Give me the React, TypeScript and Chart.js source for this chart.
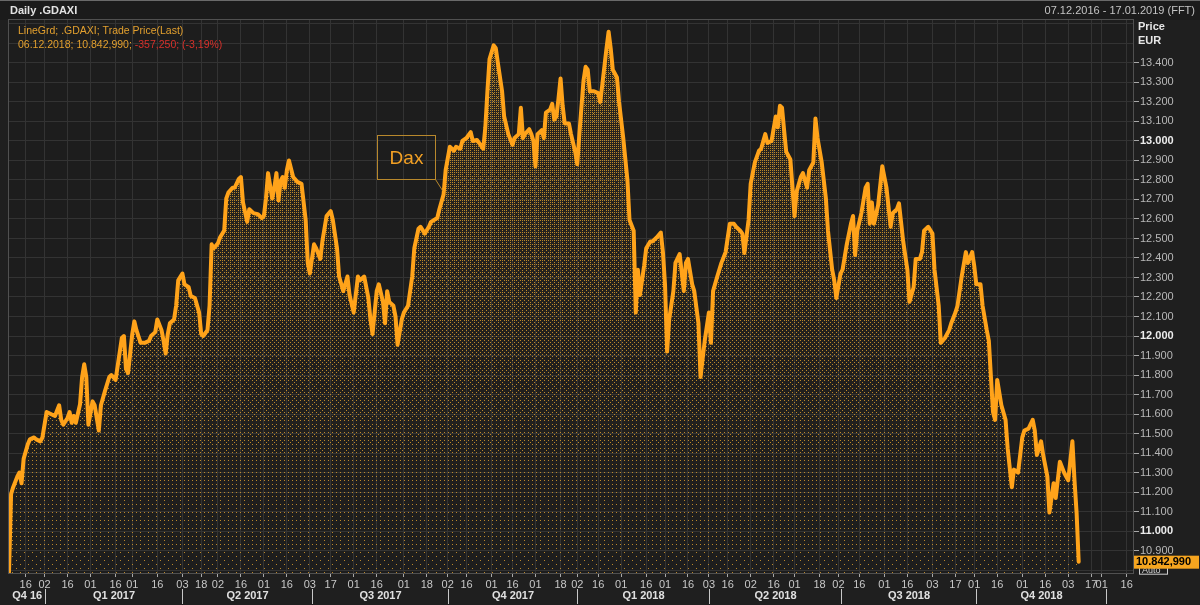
import React, { useEffect, useRef } from 'react';
import { Chart, registerables } from 'chart.js';

Chart.register(...registerables);

// Trading-day index (0 = 06.12.2016) and DAX close
const dayIndex = [
  0, 1, 2, 4, 5, 6, 7, 9, 10, 12, 13, 15, 16, 18, 20, 22, 24, 25, 26, 28, 29, 30, 31, 32, 34, 35, 36, 37, 38, 40,
  41, 43, 44, 46, 48, 49, 51, 52, 54, 55, 56, 57, 59, 60, 61, 63, 65, 67, 68, 70, 71, 73, 74, 75, 76, 77, 79, 80, 81, 83,
  84, 86, 87, 89, 91, 92, 93, 95, 96, 97, 98, 100, 101, 103, 104, 105, 107, 108, 110, 111, 112, 114, 115, 117, 119, 121, 122, 123, 124, 126,
  127, 128, 129, 130, 131, 132, 133, 134, 136, 138, 140, 142, 143, 144, 146, 147, 149, 150, 152, 154, 155, 157, 158, 160, 162, 163, 165, 167, 168, 170,
  172, 173, 174, 176, 177, 179, 180, 181, 182, 184, 185, 186, 188, 189, 191, 193, 194, 196, 197, 199, 201, 202, 205, 206, 208, 209, 211, 213, 214, 216,
  217, 219, 221, 222, 224, 225, 227, 228, 229, 230, 232, 233, 234, 236, 237, 239, 241, 242, 244, 245, 246, 247, 249, 250, 251, 252, 253, 255, 256, 257,
  259, 260, 261, 262, 263, 264, 265, 266, 268, 269, 271, 272, 273, 275, 276, 277, 278, 280, 282, 283, 284, 286, 287, 288, 289, 291, 292, 294, 296, 297,
  299, 300, 301, 302, 304, 305, 307, 308, 310, 312, 313, 314, 315, 316, 318, 319, 321, 323, 324, 325, 327, 328, 330, 331, 333, 335, 336, 337, 339, 341,
  343, 345, 347, 348, 350, 351, 352, 354, 355, 357, 359, 360, 362, 363, 365, 367, 368, 369, 370, 371, 372, 374, 375, 376, 377, 379, 380, 382, 383, 385,
  386, 387, 389, 391, 392, 394, 395, 396, 398, 399, 401, 403, 404, 405, 406, 408, 410, 411, 412, 413, 414, 416, 418, 419, 420, 422, 423, 425, 426, 428,
  430, 431, 433, 434, 436, 437, 438, 440, 442, 443, 445, 446, 448, 450, 451, 453, 454, 456, 458, 459, 461, 462, 463, 465, 466, 468, 469, 470, 471, 472,
  473, 475, 477, 478, 480, 481, 483, 485, 486, 488, 490, 491, 492, 494, 495, 497, 498, 500, 501, 503, 505, 506, 507, 509, 510, 511, 512,
];
const closePrice = [
  10790, 11190, 11225, 11280, 11300, 11245, 11370, 11445, 11470, 11480, 11470, 11460, 11480, 11610, 11600, 11590, 11645, 11570, 11545, 11580, 11610, 11555, 11590, 11555, 11650, 11790, 11855, 11790, 11545, 11665,
  11645, 11515, 11645, 11720, 11790, 11800, 11775, 11845, 11990, 12000, 11830, 11810, 12010, 12075, 12030, 11965, 11965, 11975, 12000, 12020, 12085, 12030, 11975, 11910, 12010, 12065, 12085, 12155, 12285, 12320,
  12265, 12250, 12205, 12195, 12120, 12010, 12000, 12030, 12155, 12470, 12450, 12475, 12505, 12540, 12705, 12735, 12760, 12760, 12805, 12815, 12685, 12585, 12650, 12630, 12625, 12605, 12615, 12705, 12835, 12705,
  12760, 12835, 12695, 12795, 12815, 12760, 12850, 12900, 12815, 12790, 12780, 12595, 12375, 12320, 12470, 12450, 12395, 12485, 12615, 12640, 12595, 12450, 12305, 12230, 12305, 12210, 12120, 12305, 12285, 12305,
  12195, 12085, 12010, 12230, 12265, 12175, 12065, 12230, 12175, 12155, 12100, 11955, 12085, 12120, 12155, 12305, 12450, 12550, 12560, 12525, 12560, 12585, 12605, 12650, 12725, 12850, 12970, 12950, 12970, 12960,
  13000, 13015, 13045, 13000, 13005, 12990, 12960, 13070, 13255, 13420, 13490, 13475, 13400, 13255, 13125, 13035, 12980, 13015, 13035, 13170, 13015, 13035, 13060, 13035, 13000, 12870, 13035, 13055, 13015, 13145,
  13160, 13190, 13110, 13125, 13215, 13320, 13180, 13090, 13090, 13035, 12945, 12880, 13035, 13310, 13380, 13365, 13255, 13255, 13245, 13200, 13290, 13475, 13560, 13475, 13365, 13325, 13200, 13015, 12800, 12595,
  12540, 12120, 12340, 12210, 12360, 12450, 12485, 12485, 12505, 12530, 12430, 12265, 11920, 12085, 12230, 12375, 12420, 12230, 12375, 12395, 12265, 12230, 12065, 11790, 11975, 12120, 11965, 12230, 12305, 12375,
  12430, 12575, 12575, 12560, 12540, 12525, 12425, 12595, 12780, 12890, 12950, 12960, 13035, 12990, 13000, 13125, 13070, 13180, 13170, 13055, 12945, 12905, 12760, 12615, 12740, 12815, 12835, 12760, 12850, 12890,
  13115, 13015, 12890, 12705, 12540, 12340, 12285, 12195, 12320, 12340, 12470, 12575, 12615, 12415, 12540, 12630, 12760, 12780, 12575, 12685, 12575, 12670, 12870, 12815, 12760, 12560, 12630, 12650, 12680, 12485,
  12340, 12175, 12250, 12395, 12395, 12430, 12540, 12560, 12525, 12340, 12155, 11965, 11990, 12030, 12065, 12120, 12155, 12305, 12430, 12375, 12430, 12360, 12265, 12265, 12155, 12030, 11975, 11790, 11610, 11570,
  11775, 11645, 11570, 11425, 11225, 11315, 11300, 11480, 11515, 11525, 11570, 11515, 11390, 11460, 11390, 11280, 11095, 11245, 11170, 11355, 11300, 11280, 11260, 11460, 11260, 11095, 10842.99,
];

// Day ticks on the time axis (trading-day index) and their labels
const dayTickIdx = [
  8, 17, 28, 39, 51, 59, 71, 83, 92, 100, 111, 122, 133, 144, 154, 165, 176, 189, 200, 210, 219, 231, 241, 252, 264,
  272, 282, 293, 305, 314, 325, 335, 344, 355, 366, 376, 388, 397, 407, 419, 430, 442, 453, 462, 473, 485, 496, 507, 518, 523, 535,
];
const dayTickLabels = [
  '16', '02', '16', '01', '16', '01', '16', '03', '18', '02', '16', '01', '16', '03', '17', '01', '16', '01', '18', '02', '16', '01', '16', '01', '18',
  '02', '16', '01', '16', '01', '16', '03', '16', '02', '16', '01', '18', '02', '16', '01', '16', '03', '17', '01', '16', '01', '16', '03', '17', '01', '16',
];
const quarterStartIdx = [17, 83, 145, 210, 272, 335, 398, 463, 525];
const quarterLabels = ['Q4 16', 'Q1 2017', 'Q2 2017', 'Q3 2017', 'Q4 2017', 'Q1 2018', 'Q2 2018', 'Q3 2018', 'Q4 2018'];

const priceTicks = [
  10800, 10900, 11000, 11100, 11200, 11300, 11400, 11500, 11600, 11700, 11800, 11900, 12000, 12100, 12200,
  12300, 12400, 12500, 12600, 12700, 12800, 12900, 13000, 13100, 13200, 13300, 13400, 13500, 13600,
];
const labelledMin = 10900;
const labelledMax = 13400;

const titleText = 'Daily .GDAXI';
const rangeText = '07.12.2016 - 17.01.2019 (FFT)';
const legendLine1 = 'LineGrd; .GDAXI; Trade Price(Last)';
const legendLine2a = '06.12.2018; 10.842,990; ';
const legendLine2b = '-357,250; (-3,19%)';
const lastValueText = '10.842,990';
const annotationText = 'Dax';
const annotationDay = 208;

const FONT = "'Liberation Sans', Arial, sans-serif";
const ORANGE = '#ffa31a';

const fmtPrice = (v: number) => {
  const th = Math.floor(v / 1000);
  const rest = String(Math.round(v % 1000)).padStart(3, '0');
  return `${th}.${rest}`;
};

// ordered-dither texture (LineGrd look): dot density fades from top to bottom
function makeDitherCanvas(w: number, h: number, top: number, bottom: number) {
  const off = document.createElement('canvas');
  off.width = w;
  off.height = h;
  const c = off.getContext('2d')!;
  const img = c.createImageData(w, h);
  const bayer = (x: number, y: number) => {
    let v = 0;
    for (let bit = 2; bit >= 0; bit--) {
      const xb = (x >> (2 - bit)) & 1;
      const yb = (y >> (2 - bit)) & 1;
      v |= ((xb ^ yb) << (2 * bit + 1)) | (yb << (2 * bit));
    }
    return v;
  };
  for (let y = 0; y < h; y++) {
    const t = Math.min(1, Math.max(0, (y - top) / (bottom - top)));
    const dens = 0.035 + 0.3 * Math.pow(1 - t, 1.4);
    for (let x = 0; x < w; x++) {
      const th = (bayer(x & 7, y & 7) + 0.5) / 64;
      const i = (y * w + x) * 4;
      if (th < dens) {
        img.data[i] = 200;
        img.data[i + 1] = 144;
        img.data[i + 2] = 44;
        img.data[i + 3] = 235;
      } else {
        img.data[i] = 255;
        img.data[i + 1] = 170;
        img.data[i + 2] = 40;
        img.data[i + 3] = Math.round(14 * (1 - t));
      }
    }
  }
  c.putImageData(img, 0, 0);
  return off;
}

const decorPlugin = {
  id: 'decor',
  beforeDraw(chart: any) {
    const { ctx, chartArea: a, width, height } = chart;
    ctx.save();
    ctx.fillStyle = '#1f1f1f';
    ctx.fillRect(0, 0, width, height);
    ctx.fillStyle = '#1b1b1b';
    ctx.fillRect(0, 0, width, 20);
    ctx.fillStyle = '#1d1d1d';
    ctx.fillRect(a.left, a.top, a.right - a.left, a.bottom - a.top);
    ctx.strokeStyle = '#6a6a6a';
    ctx.lineWidth = 1;
    ctx.beginPath();
    ctx.moveTo(0, 0.5);
    ctx.lineTo(width, 0.5);
    ctx.stroke();
    ctx.restore();
  },
  afterDraw(chart: any) {
    const { ctx, chartArea: a, scales } = chart;
    const xs = scales.x;
    const ys = scales.y;
    ctx.save();
    ctx.strokeStyle = '#505050';
    ctx.lineWidth = 1;
    ctx.strokeRect(a.left - 0.5, a.top - 0.5, a.right - a.left + 1, a.bottom - a.top + 1);

    ctx.textBaseline = 'middle';
    ctx.font = `bold 11px ${FONT}`;
    ctx.fillStyle = '#e2e2e2';
    ctx.textAlign = 'left';
    ctx.fillText(titleText, 10, 11);
    ctx.font = `11px ${FONT}`;
    ctx.fillStyle = '#c4c4c4';
    ctx.textAlign = 'right';
    ctx.fillText(rangeText, 1195, 11);

    ctx.textAlign = 'left';
    ctx.font = `10.5px ${FONT}`;
    ctx.fillStyle = '#e3a02e';
    ctx.fillText(legendLine1, 18, 31);
    ctx.fillText(legendLine2a, 18, 45);
    const w2 = ctx.measureText(legendLine2a).width;
    ctx.fillStyle = '#d8302a';
    ctx.fillText(legendLine2b, 18 + w2, 45);

    ctx.font = `bold 11px ${FONT}`;
    ctx.fillStyle = '#e6e6e6';
    ctx.fillText('Price', 1138, 27);
    ctx.fillText('EUR', 1138, 41);

    ctx.strokeStyle = '#c8c8c8';
    ctx.beginPath();
    const qx = quarterStartIdx.map((q) => Math.round(xs.getPixelForValue(q)) + 0.5);
    qx.forEach((x) => {
      ctx.moveTo(x, 589);
      ctx.lineTo(x, 604);
    });
    ctx.stroke();
    ctx.font = `bold 11px ${FONT}`;
    ctx.fillStyle = '#e0e0e0';
    ctx.textAlign = 'center';
    quarterLabels.forEach((lab, i) => {
      const left = i === 0 ? a.left : qx[i - 1];
      const right = qx[i] ?? a.right;
      ctx.fillText(lab, (left + right) / 2, 596);
    });

    const lastV = closePrice[closePrice.length - 1];
    const ly = ys.getPixelForValue(lastV);
    ctx.strokeStyle = '#d0d0d0';
    ctx.strokeRect(1139.5, ly + 4.5, 28, 8);
    ctx.fillStyle = '#d0d0d0';
    ctx.font = `9px ${FONT}`;
    ctx.textAlign = 'left';
    ctx.fillText('Auto', 1142, ly + 9);
    ctx.fillStyle = '#f6a51f';
    ctx.fillRect(a.right + 1, ly - 6, 65, 13);
    ctx.fillStyle = '#000';
    ctx.font = `bold 11px ${FONT}`;
    ctx.fillText(lastValueText, a.right + 3, ly + 0.5);

    const ai = dayIndex.indexOf(annotationDay);
    const ax = xs.getPixelForValue(annotationDay);
    const ay = ys.getPixelForValue(closePrice[ai]);
    const bR = Math.round(ax - 9) + 0.5;
    const bB = Math.round(ay - 16) + 0.5;
    const bW = 58;
    const bH = 44;
    ctx.strokeStyle = '#b8882c';
    ctx.lineWidth = 1;
    ctx.strokeRect(bR - bW, bB - bH, bW, bH);
    ctx.beginPath();
    ctx.moveTo(bR, bB);
    ctx.lineTo(ax - 1, ay - 4);
    ctx.stroke();
    ctx.fillStyle = '#f2a024';
    ctx.font = `19px ${FONT}`;
    ctx.textAlign = 'center';
    ctx.fillText(annotationText, bR - bW / 2, bB - bH / 2 + 1);
    ctx.restore();
  },
};

export default function App() {
  const ref = useRef<HTMLCanvasElement | null>(null);

  useEffect(() => {
    const canvas = ref.current;
    if (!canvas) return;
    const c2d = canvas.getContext('2d')!;
    const dither = makeDitherCanvas(1200, 605, 20, 573);
    const ditherPattern = c2d.createPattern(dither, 'no-repeat');

    const points = dayIndex.map((d, i) => ({ x: d, y: closePrice[i] }));

    const chart = new Chart(canvas, {
      type: 'line',
      data: {
        datasets: [
          {
            data: points,
            borderColor: ORANGE,
            borderWidth: 4,
            borderJoinStyle: 'round',
            borderCapStyle: 'round',
            pointRadius: 0,
            tension: 0,
            fill: false,
            order: 0,
          },
          {
            data: points,
            borderWidth: 0,
            borderColor: 'transparent',
            pointRadius: 0,
            backgroundColor: ditherPattern as any,
            fill: 'start',
            order: 1,
          },
        ],
      },
      options: {
        animation: false,
        responsive: false,
        devicePixelRatio: 1,
        layout: { padding: { left: 9, top: 20, right: 0, bottom: 0 } },
        plugins: { legend: { display: false }, tooltip: { enabled: false } },
        scales: {
          x: {
            type: 'linear',
            min: 0,
            max: 538,
            afterBuildTicks: (s: any) => {
              s.ticks = dayTickIdx.map((v) => ({ value: v }));
            },
            afterFit: (s: any) => {
              s.height = 32;
            },
            grid: { color: '#333333', tickColor: '#a8a8a8', tickLength: 4 },
            border: { color: '#505050' },
            ticks: {
              autoSkip: false,
              maxRotation: 0,
              padding: 1,
              color: '#c8c8c8',
              font: { family: FONT, size: 11 },
              callback: (_v: any, i: number) => dayTickLabels[i],
            },
          },
          y: {
            type: 'linear',
            position: 'right',
            min: 10785,
            max: 13620,
            afterBuildTicks: (s: any) => {
              s.ticks = priceTicks.map((v) => ({ value: v }));
            },
            afterFit: (s: any) => {
              s.width = 67;
            },
            grid: {
              color: '#333333',
              tickLength: 6,
              tickColor: (c: any) =>
                c.tick && c.tick.value >= labelledMin && c.tick.value <= labelledMax ? '#a8a8a8' : 'rgba(0,0,0,0)',
            },
            border: { color: '#505050' },
            ticks: {
              padding: 1,
              color: (c: any) => (c.tick && c.tick.value % 1000 === 0 ? '#ececec' : '#b8b8b8'),
              font: (c: any) => ({
                family: FONT,
                size: 11,
                weight: c.tick && c.tick.value % 1000 === 0 ? 'bold' : 'normal',
              }),
              callback: (v: any) => (v >= labelledMin && v <= labelledMax ? fmtPrice(v) : ''),
            },
          },
        },
      },
      plugins: [decorPlugin],
    } as any);

    return () => chart.destroy();
  }, []);

  return (
    <div style={{ position: 'fixed', left: 0, top: 0, width: 1200, height: 605, background: '#1f1f1f' }}>
      <canvas ref={ref} width={1200} height={605} style={{ display: 'block', width: 1200, height: 605 }} />
    </div>
  );
}
